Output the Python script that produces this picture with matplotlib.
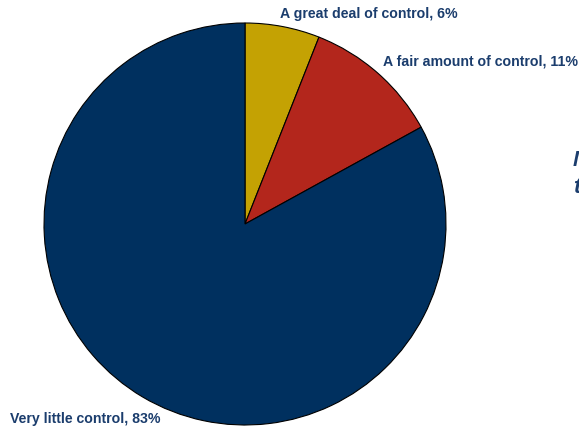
import matplotlib
matplotlib.use('Agg')
import matplotlib.pyplot as plt

# Share of people by how much control they feel they have
labels = ['A great deal of control', 'A fair amount of control', 'Very little control']
shares = [6, 11, 83]
colors = ['#C4A203', '#B3261C', '#00305F']

W, H = 579, 429
fig = plt.figure(figsize=(W / 100, H / 100), dpi=100)
fig.patch.set_facecolor('white')

# Pie centred at (245, 224) px with radius ~201 px
cx, cy, r = 245, 224, 201
ax = fig.add_axes([(cx - r) / W, (H - cy - r) / H, 2 * r / W, 2 * r / H])
ax.pie(shares, colors=colors, startangle=90, counterclock=False, radius=1,
       wedgeprops=dict(edgecolor='black', linewidth=0.8))
ax.set_xlim(-1, 1)
ax.set_ylim(-1, 1)
ax.set_aspect('auto')
ax.axis('off')

text_color = '#1B3D6D'
font = dict(family='Liberation Sans', fontweight='bold', fontsize=10.2, color=text_color)

# Label positions in pixels (left edge, vertical centre)
label_pos = [(280, 14), (383, 62), (10, 419)]
for (x, y), name, val in zip(label_pos, labels, shares):
    fig.text(x / W, 1 - y / H, f'{name}, {val}%', ha='left', va='center', **font)

# Side caption running off the right edge
side = dict(family='Liberation Sans', fontweight='bold', fontstyle='italic',
            fontsize=16, color=text_color, ha='left', va='baseline')
fig.text(573 / W, 1 - 166 / H, 'M', **side)
fig.text(573 / W, 1 - 193 / H, 't', **side)

fig.savefig('out.png', dpi=100, facecolor='white')
plt.close()
